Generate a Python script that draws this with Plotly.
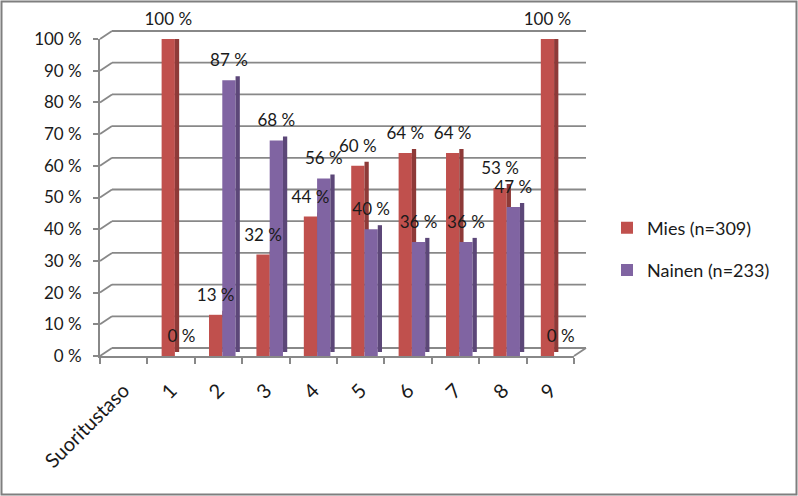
import plotly.graph_objects as go

categories = ["Suoritustaso", "1", "2", "3", "4", "5", "6", "7", "8", "9"]
mies = [None, 1.00, 0.13, 0.32, 0.44, 0.60, 0.64, 0.64, 0.53, 1.00]
nainen = [None, 0.00, 0.87, 0.68, 0.56, 0.40, 0.36, 0.36, 0.47, 0.00]
series_names = ["Mies (n=309)", "Nainen (n=233)"]
tick_vals = [i / 10 for i in range(11)]
tick_text = [f"{i*10} %" for i in range(11)]

W, H = 798, 496
L, R, T, B = 100, 224, 39, 140
pw, ph = W - L - R, H - T - B
DX, DY = 12, 8  # 3D depth offset in pixels

FONT = "Lato, 'Open Sans', sans-serif"
RED, RED_SIDE = "#C0504D", "#8E3A38"
PURPLE, PURPLE_SIDE = "#8064A2", "#5C4778"
GRID = "#888888"
TXT = "#1a1a1a"

xpos = list(range(len(categories)))
FRONT_W, SIDE_W = 0.28, 0.09
series = [
    (series_names[0], mies, RED, RED_SIDE, -0.20),
    (series_names[1], nainen, PURPLE, PURPLE_SIDE, 0.08),
]

def fmt(v):
    return "" if v is None else f"{round(v*100)} %"

fig = go.Figure()
for name, vals, col, side_col, off in series:
    fig.add_trace(go.Bar(
        x=xpos, y=vals, name=name, offset=off, width=FRONT_W,
        marker=dict(color=col, line=dict(width=0)), legendgroup=name,
        hoverinfo="skip",
    ))
    fig.add_trace(go.Bar(
        x=xpos, y=vals, base=DY / 2 / ph, offset=off + FRONT_W, width=SIDE_W,
        marker=dict(color=side_col, line=dict(width=0)), legendgroup=name,
        showlegend=False, hoverinfo="skip",
    ))
for name, vals, col, side_col, off in series:
    fig.add_trace(go.Scatter(
        x=[p + off + FRONT_W / 2 for p in xpos], y=vals,
        mode="markers+text", marker=dict(size=14, opacity=0),
        text=[fmt(v) for v in vals], textposition="top center",
        textfont=dict(family=FONT, size=17, color=TXT),
        cliponaxis=False, showlegend=False, legendgroup=name, hoverinfo="skip",
    ))

ymin, ymax = 0.0, 1.0
dxp = DX / pw
dyp = DY / ph
shapes = []
for v in tick_vals:
    yp = (v - ymin) / (ymax - ymin)
    shapes.append(dict(type="line", xref="paper", yref="paper", x0=0, y0=yp, x1=dxp, y1=yp + dyp,
                       line=dict(color=GRID, width=1.8), layer="below"))
    shapes.append(dict(type="line", xref="paper", yref="paper", x0=dxp, y0=yp + dyp, x1=1 + dxp, y1=yp + dyp,
                       line=dict(color=GRID, width=1.8), layer="below"))
shapes.append(dict(type="line", xref="paper", yref="paper", x0=1, y0=0, x1=1 + dxp, y1=dyp,
                   line=dict(color=GRID, width=1.8), layer="below"))
# outer chart border
shapes.append(dict(type="rect", xref="paper", yref="paper",
                   x0=(1.5 - L) / pw, x1=1 + (R - 1.5) / pw,
                   y0=-(B - 1.5) / ph, y1=1 + (T - 1.5) / ph,
                   line=dict(color="#7F7F7F", width=2), fillcolor="rgba(0,0,0,0)"))

boundaries = [p - 0.5 for p in xpos] + [xpos[-1] + 0.5]

fig.update_layout(
    width=W, height=H,
    margin=dict(l=L, r=R, t=T, b=B),
    paper_bgcolor="white", plot_bgcolor="rgba(0,0,0,0)",
    barmode="overlay",
    shapes=shapes,
    font=dict(family=FONT, size=17, color=TXT),
    legend=dict(x=(607 - L) / pw, y=0.3375, xanchor="left", yanchor="middle",
                font=dict(family=FONT, size=18, color=TXT), tracegroupgap=16,
                traceorder="grouped", bgcolor="rgba(0,0,0,0)"),
    xaxis=dict(range=[-0.5, len(categories) - 0.5], tickvals=xpos, ticktext=categories,
               tickangle=-45, showgrid=False, zeroline=False,
               showline=True, linecolor=GRID, linewidth=1.8,
               ticks="", ticklabelstandoff=13,
               minor=dict(tickvals=boundaries, ticks="outside", ticklen=6,
                          tickcolor=GRID, tickwidth=1.8, showgrid=False),
               tickfont=dict(family=FONT, size=20, color=TXT)),
    yaxis=dict(range=[ymin, ymax], tickvals=tick_vals, ticktext=tick_text,
               showgrid=False, zeroline=False,
               showline=True, linecolor=GRID, linewidth=1.8,
               ticks="outside", ticklen=5, tickcolor=GRID, tickwidth=1.8,
               ticklabelstandoff=8,
               tickfont=dict(family=FONT, size=17, color=TXT)),
)

fig.write_html("out.html")
